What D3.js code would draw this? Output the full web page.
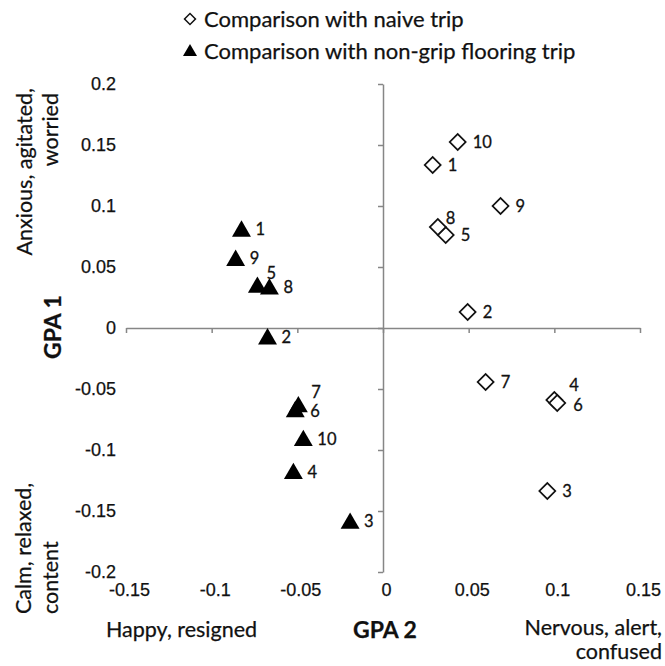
<!DOCTYPE html>
<html lang="en">
<head>
  <meta charset="UTF-8">
  <title>GPA 1 vs GPA 2</title>
  <script src="https://d3js.org/d3.v7.min.js"></script>
  <style>
    body { margin: 0; background: #fff; }
    svg { display: block; font-family: Lato, "Noto Sans", sans-serif; }
    .axis path, .axis line { stroke: #868686; stroke-width: 1.5px; }
    .ticklab text { font-size: 18px; fill: #111; stroke: #111; stroke-width: 0.25px; }
    .lab { font-size: 16.5px; fill: #111; stroke: #111; stroke-width: 0.3px; }
    .title { font-size: 21.5px; fill: #111; stroke: #111; stroke-width: 0.25px; }
    .legend { font-size: 22px; }
    .bold { font-weight: bold; font-size: 23px; }
  </style>
</head>
<body>
<svg width="665" height="666"></svg>
<script>
// point ids (same for both series)
const ids = [1, 2, 3, 4, 5, 6, 7, 8, 9, 10];

// comparison with naive trip (open diamonds)
const naiveX = [0.029, 0.0494, 0.0959, 0.100, 0.0366, 0.1017, 0.0599, 0.032, 0.0686, 0.0436];
const naiveY = [0.1336, 0.0131, -0.1336, -0.059, 0.0762, -0.0615, -0.0443, 0.0828, 0.100, 0.1525];

// comparison with non-grip flooring trip (filled triangles)
const gripX = [-0.0826, -0.0674, -0.0192, -0.0523, -0.0733, -0.0512, -0.0494, -0.0663, -0.086, -0.0465];
const gripY = [0.081, -0.0074, -0.1585, -0.1177, 0.035, -0.067, -0.063, 0.0335, 0.057, -0.0907];

const xTicks = [-0.15, -0.1, -0.05, 0, 0.05, 0.1, 0.15];
const yTicks = [-0.2, -0.15, -0.1, -0.05, 0, 0.05, 0.1, 0.15, 0.2];

const legendLabels = ["Comparison with naive trip", "Comparison with non-grip flooring trip"];

// label nudges for crowded points
const naiveOff = { 8: [8, -9], 4: [15, -15], 6: [16, 2] };
const gripOff = { 5: [9, -12], 7: [13, -13], 6: [15, 1] };

const svg = d3.select("svg");
const x = d3.scaleLinear().domain([-0.15, 0.15]).range([126, 640]);
const y = d3.scaleLinear().domain([-0.2, 0.2]).range([572, 84]);
const fmt = d => `${+d.toFixed(2)}`;

// axes crossing at zero
svg.append("g").attr("class", "axis")
  .attr("transform", `translate(0,${y(0)})`)
  .call(d3.axisBottom(x).tickValues(xTicks).tickSize(5).tickSizeOuter(0).tickFormat(""));
svg.append("g").attr("class", "axis")
  .attr("transform", `translate(${x(0)},0)`)
  .call(d3.axisLeft(y).tickValues(yTicks).tickSize(5).tickSizeOuter(0).tickFormat(""));

// tick labels at the plot edges
const xl = svg.append("g").attr("class", "ticklab")
  .attr("transform", `translate(0,${y.range()[0] + 8})`)
  .call(d3.axisBottom(x).tickValues(xTicks).tickSize(0).tickFormat(fmt));
const yl = svg.append("g").attr("class", "ticklab")
  .attr("transform", `translate(${x.range()[0] - 7},0)`)
  .call(d3.axisLeft(y).tickValues(yTicks).tickSize(0).tickFormat(fmt));
[xl, yl].forEach(g => {
  g.select(".domain").remove();
  g.selectAll("text").attr("font-family", null).attr("font-size", null);
});
xl.selectAll("text").attr("dx", 3);

// markers
const diamond = d3.symbol().type(d3.symbolSquare).size(128);
const tri = d3.symbol().type(d3.symbolTriangle).size(155);

const naive = ids.map((id, i) => ({ id, x: naiveX[i], y: naiveY[i] }));
const grip = ids.map((id, i) => ({ id, x: gripX[i], y: gripY[i] }));

svg.append("g").selectAll("path").data(naive).join("path")
  .attr("d", diamond)
  .attr("transform", d => `translate(${x(d.x)},${y(d.y)}) rotate(45)`)
  .attr("fill", "#fff").attr("stroke", "#111").attr("stroke-width", 1.7);

svg.append("g").selectAll("path").data(grip).join("path")
  .attr("d", tri)
  .attr("transform", d => `translate(${x(d.x)},${y(d.y) + 2})`)
  .attr("fill", "#000");

function labels(data, off, dx0) {
  svg.append("g").selectAll("text").data(data).join("text")
    .attr("class", "lab")
    .attr("x", d => x(d.x) + (off[d.id] ? off[d.id][0] : dx0))
    .attr("y", d => y(d.y) + (off[d.id] ? off[d.id][1] : 0))
    .attr("dominant-baseline", "central")
    .text(d => d.id);
}
labels(naive, naiveOff, 15);
labels(grip, gripOff, 14);

// legend
const leg = svg.append("g");
leg.append("path").attr("d", d3.symbol().type(d3.symbolSquare).size(60))
  .attr("transform", "translate(190,19) rotate(45)")
  .attr("fill", "#fff").attr("stroke", "#111").attr("stroke-width", 1.5);
leg.append("path").attr("d", d3.symbol().type(d3.symbolTriangle).size(85))
  .attr("transform", "translate(190,52)").attr("fill", "#000");
legendLabels.forEach((t, i) => {
  leg.append("text").attr("class", "title legend")
    .attr("x", 204).attr("y", 18 + i * 32)
    .attr("dominant-baseline", "central").text(t);
});

// axis titles
function vtext(t, cx, cy, anchor, bold) {
  svg.append("text").attr("class", "title" + (bold ? " bold" : ""))
    .attr("transform", `translate(${cx},${cy}) rotate(-90)`)
    .attr("text-anchor", anchor).attr("dominant-baseline", "central").text(t);
}
vtext("Anxious, agitated,", 24, 88, "end");
vtext("worried", 50, 93, "end");
vtext("GPA 1", 52, 327, "middle", true);
vtext("Calm, relaxed,", 23, 614, "start");
vtext("content", 50, 614, "start");

function htext(t, hx, hy, anchor, bold) {
  svg.append("text").attr("class", "title" + (bold ? " bold" : ""))
    .attr("x", hx).attr("y", hy)
    .attr("text-anchor", anchor).attr("dominant-baseline", "central").text(t);
}
htext("Happy, resigned", 106, 629, "start");
htext("GPA 2", 385, 629, "middle", true);
htext("Nervous, alert,", 662, 627, "end");
htext("confused", 662, 651, "end");
</script>
</body>
</html>
